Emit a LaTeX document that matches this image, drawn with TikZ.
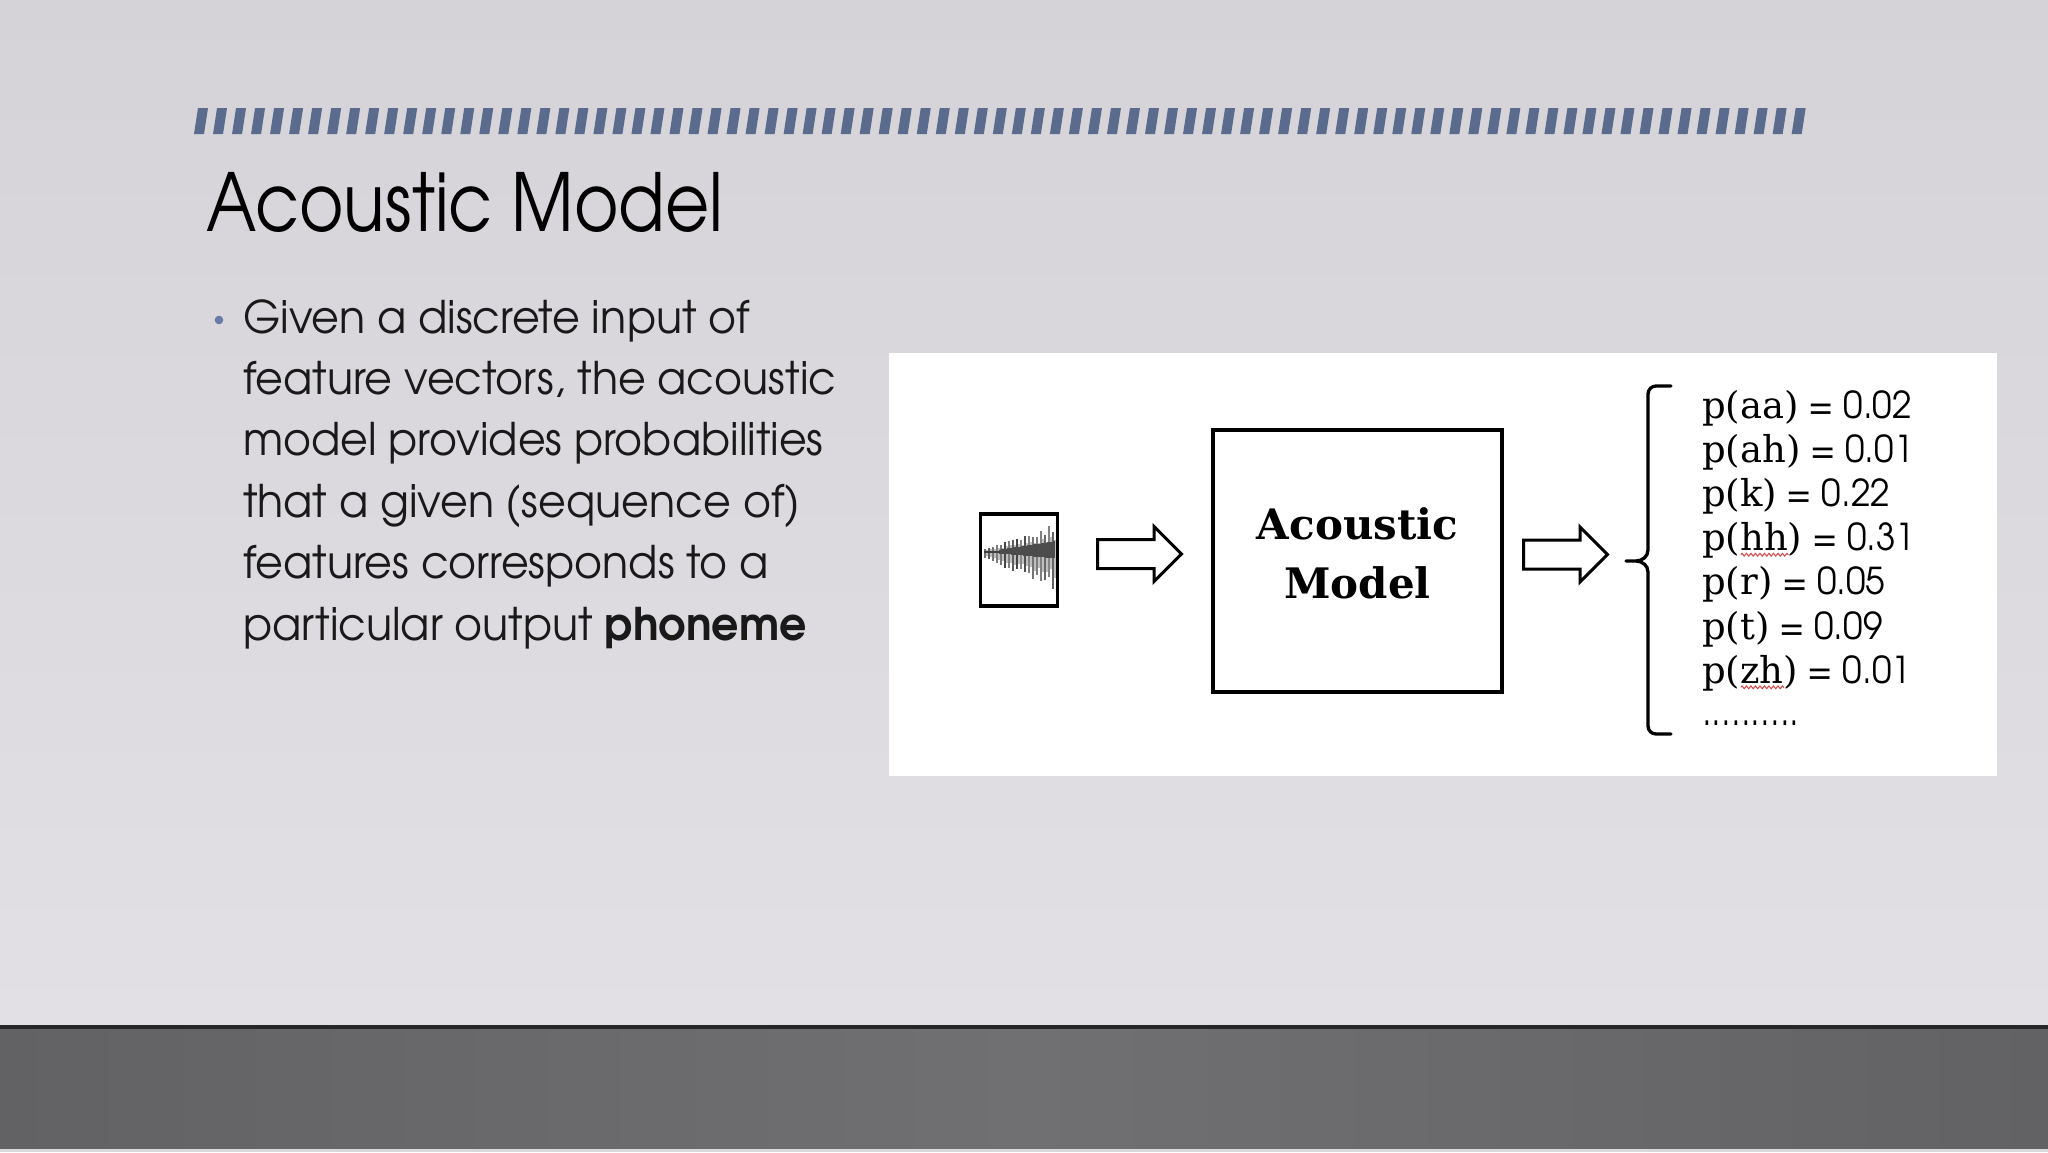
\documentclass[tikz,border=0pt]{standalone}
\usepackage{fontspec}
\setmainfont{TeX Gyre Adventor}[FakeStretch=0.95]
\newfontfamily\titlefont{TeX Gyre Adventor}[FakeStretch=0.85]
\newfontfamily\typefont{DejaVu Serif}
\usetikzlibrary{shapes.arrows,decorations.pathmorphing}

\definecolor{slidetop}{RGB}{213,211,216}
\definecolor{slidebottom}{RGB}{226,224,229}
\definecolor{stripeblue}{RGB}{90,107,142}
\definecolor{bulletblue}{RGB}{105,120,165}
\definecolor{floorgray}{RGB}{112,112,114}
\definecolor{floordark}{RGB}{98,98,101}
\definecolor{bodytext}{RGB}{25,25,25}
\definecolor{spellred}{RGB}{215,70,70}

\tikzset{
    outline/.style={draw=black, line width=3.3pt},
    blockarrow/.style={single arrow, draw=black, line width=3pt, fill=white,
        inner xsep=0pt, inner ysep=13pt, single arrow head extend=13pt,
        single arrow tip angle=90, minimum height=84pt, anchor=tail},
    bodyline/.style={anchor=base west, inner sep=0pt, text=bodytext,
        font=\fontsize{45}{54}\selectfont},
    probline/.style={anchor=base west, inner sep=0pt,
        font=\fontsize{37}{42}\selectfont},
    modeltext/.style={align=center, inner sep=0pt,
        font=\typefont\bfseries\fontsize{42}{59}\selectfont},
    spellmark/.style={spellred, line width=1pt, decorate,
        decoration={zigzag, amplitude=1.4pt, segment length=4.5pt}}
}

% red spell-check squiggle under a word
\newsavebox{\squigbox}
\newcommand{\squig}[1]{\sbox{\squigbox}{#1}%
    \rlap{\raisebox{-6pt}{\tikz\draw[spellmark] (0pt,0pt) -- (\wd\squigbox,0pt);}}%
    \usebox{\squigbox}}

\begin{document}
\begin{tikzpicture}[x=1pt, y=-1pt]
    \useasboundingbox (0,0) rectangle (2048,1152);

    % Slide background and floor
    \shade[top color=slidetop, bottom color=slidebottom] (0,0) rectangle (2048,1027);
    \shade[left color=floordark, right color=floordark, middle color=floorgray] (0,1027) rectangle (2048,1149);
    \fill[black!85] (0,1025) rectangle (2048,1029);
    \fill[black!15] (0,1149) rectangle (2048,1152);

    % Striped rule above the title
    \foreach \k in {0,...,84} {
        \fill[stripeblue] (194+19.02*\k,134) -- (204+19.02*\k,134)
            -- (208+19.02*\k,108) -- (198+19.02*\k,108) -- cycle;
    }

    % Title
    \node[anchor=base west, inner sep=0pt, font=\titlefont\fontsize{80}{90}\selectfont] (title)
        at (206,231) {Acoustic Model};

    % Bullet text
    \fill[bulletblue] (219,320) circle (4.3);
    \foreach \txt [count=\n from 0] in {{Given a discrete input of},
            {feature vectors, the acoustic}, {model provides probabilities},
            {that a given (sequence of)}, {features corresponds to a},
            {particular output \textbf{phoneme}}} {
        \node[bodyline] (line\n) at (243,333+61.4*\n) {\txt};
    }

    % White figure panel
    \fill[white] (889,353) rectangle (1997,776);

    % Input frame with waveform
    \node[outline, minimum width=77pt, minimum height=92pt, inner sep=0pt] (wave) at (1019,560) {};
    \pgfmathsetseed{11}
    \foreach \i in {0,...,17} {
        \pgfmathsetmacro{\up}{3+1.5*\i*(0.6+0.4*rnd)}
        \pgfmathsetmacro{\dn}{6+2.2*\i*(0.5+0.5*rnd)}
        \pgfmathsetmacro{\tone}{45+30*rnd}
        \draw[black!\tone, line width=2.2pt] (985+4*\i,552-\up) -- (985+4*\i,552+\dn);
        \draw[black!25, line width=2pt] (987+4*\i,552-0.6*\up) -- (987+4*\i,552+0.7*\dn);
    }
    \foreach \i in {0,...,27} {
        \pgfmathsetmacro{\core}{2.5+0.3*\i}
        \draw[black!70, line width=1.4pt] (1000+2*\i,552-\core) -- (1000+2*\i,552+0.6*\core);
    }
    \draw[black!75, line width=2pt] (984,552) -- (1000,552);

    % Hollow arrows and model box
    \node[blockarrow] (arrowA) at (1096,554) {};
    \node[outline, minimum width=289pt, minimum height=262pt] (model) at (1357.5,561) {};
    \node[modeltext] (modellabel) at ([yshift=8pt]model.center) {Acoustic\\Model};
    \node[blockarrow] (arrowB) at (1522,554.5) {};

    % Brace
    \draw[line width=3.3pt, line join=round, line cap=round]
        (1671,386) -- (1656,386) to[out=180,in=90] (1648,394) -- (1648,550)
        to[out=-90,in=0] (1636,561) -- (1626,561) -- (1636,561)
        to[out=0,in=90] (1648,572) -- (1648,726) to[out=-90,in=180] (1656,734) -- (1671,734);

    % Phoneme probabilities
    \foreach \ph/\val [count=\n from 0] in {aa/0.02, ah/0.01, k/0.22, {\squig{hh}}/0.31,
            r/0.05, t/0.09, {\squig{zh}}/0.01} {
        \node[probline] (prob\n) at (1702,418+44.2*\n) {{\typefont p(\ph)} = \val};
    }
    \node[probline] (probdots) at (1702,725) {..........};
\end{tikzpicture}
\end{document}
